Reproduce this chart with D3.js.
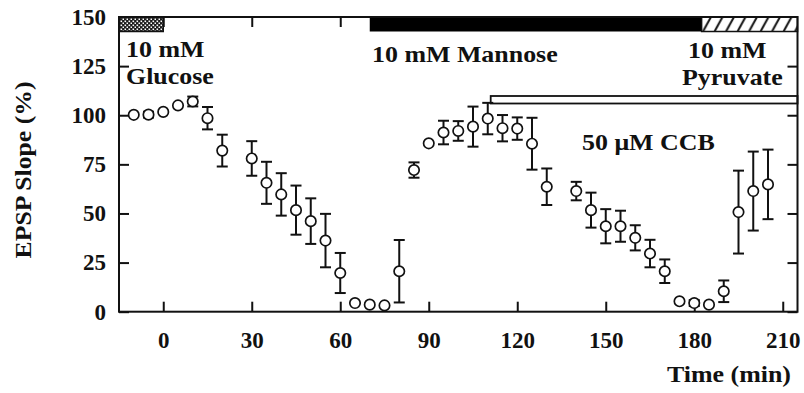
<!DOCTYPE html>
<html>
<head>
<meta charset="utf-8">
<script src="https://cdn.jsdelivr.net/npm/d3@7"></script>
<style>
  body { margin: 0; background: #fff; }
  svg text { font-family: "Liberation Serif", "Times New Roman", serif; font-weight: bold; fill: #111; }
</style>
</head>
<body>
<svg id="chart" width="804" height="393"></svg>
<script>
// Time points (min) and mean EPSP slope (% of baseline) with SEM
const times = [-10, -5, 0, 5, 10, 15, 20, 30, 35, 40, 45, 50, 55, 60, 65, 70, 75, 80, 85, 90,
  95, 100, 105, 110, 115, 120, 125, 130, 140, 145, 150, 155, 160, 165, 170, 175, 180, 185, 190, 195, 200, 205];
const slope = [100.2, 100.3, 101.7, 105, 107, 98.5, 82, 78, 65.6, 59.7, 51.7, 46.1, 36.2, 19.7, 4.4, 3.6, 3.2, 20.6, 72.1, 85.7,
  91.2, 92, 94.2, 98.3, 93.4, 93.2, 85.5, 63.6, 61.4, 51.7, 43.5, 43.5, 37.6, 29.6, 20.6, 5.3, 4.4, 3.6, 10.4, 50.7, 61.4, 64.8];
const sem = [0, 1.5, 0, 0, 2.5, 5.7, 8.1, 8.8, 10.7, 10.8, 12.5, 11.6, 13.6, 10.2, 0, 0, 0, 15.9, 3.9, 0,
  6, 5, 10.2, 8, 6.7, 5.7, 13.2, 9.3, 4.7, 8.9, 8.7, 7.9, 6.4, 7, 6, 0, 1.5, 0, 5.5, 21.1, 20.1, 17.7];

// Perfusion periods (min)
const glucosePeriod = [-15, 0];
const mannosePeriod = [70, 182.5];
const pyruvatePeriod = [182.5, 215];
const ccbPeriod = [111, 215];

const xTicks = [0, 30, 60, 90, 120, 150, 180, 210];
const yTicks = [0, 25, 50, 75, 100, 125, 150];

const svg = d3.select("#chart");
const x = d3.scaleLinear().domain([-15, 215]).range([119, 797.5]);
const y = d3.scaleLinear().domain([0, 150]).range([311.7, 17]);

const defs = svg.append("defs");
// fine checker for the glucose bar
const chk = defs.append("pattern").attr("id", "checker").attr("patternUnits", "userSpaceOnUse")
  .attr("x", 0).attr("y", 0).attr("width", 4).attr("height", 4);
chk.append("rect").attr("width", 4).attr("height", 4).attr("fill", "#1a1a1a");
chk.append("rect").attr("x", 0.5).attr("y", 0.5).attr("width", 1.6).attr("height", 1.6).attr("fill", "#fff");
chk.append("rect").attr("x", 2.5).attr("y", 2.5).attr("width", 1.6).attr("height", 1.6).attr("fill", "#fff");
// diagonal hatch for the pyruvate bar
const hatch = defs.append("pattern").attr("id", "hatch").attr("patternUnits", "userSpaceOnUse")
  .attr("x", 0).attr("y", 17).attr("width", 11.5).attr("height", 14.5);
hatch.append("rect").attr("width", 11.5).attr("height", 14.5).attr("fill", "#fff");
hatch.append("line").attr("x1", 1.5).attr("y1", 14.5).attr("x2", 9.5).attr("y2", 0)
  .attr("stroke", "#111").attr("stroke-width", 2);

// axes with inward ticks on all four sides
const axisStyle = g => {
  g.select(".domain").remove();
  g.selectAll(".tick line").attr("stroke", "#111").attr("stroke-width", 2);
  g.selectAll("text").attr("font-size", 23).attr("fill", "#111")
    .attr("font-family", '"Liberation Serif", serif').attr("font-weight", "bold");
};
svg.append("g").attr("transform", `translate(0,${y(0)})`)
  .call(d3.axisBottom(x).tickValues(xTicks).tickSizeInner(-10).tickSizeOuter(0).tickPadding(20))
  .call(axisStyle);
svg.append("g").attr("transform", `translate(0,${y(150)})`)
  .call(d3.axisTop(x).tickValues(xTicks).tickSizeInner(-10).tickSizeOuter(0).tickFormat(""))
  .call(axisStyle);
svg.append("g").attr("transform", `translate(${x(-15)},0)`)
  .call(d3.axisLeft(y).tickValues(yTicks).tickSizeInner(-10).tickSizeOuter(0).tickPadding(13))
  .call(axisStyle);
svg.append("g").attr("transform", `translate(${x(215)},0)`)
  .call(d3.axisRight(y).tickValues(yTicks).tickSizeInner(-10).tickSizeOuter(0).tickFormat(""))
  .call(axisStyle);

// treatment bars along the top
const barTop = y(150), barH = 14.5;
svg.append("rect").attr("x", x(glucosePeriod[0])).attr("y", barTop)
  .attr("width", x(glucosePeriod[1]) - x(glucosePeriod[0])).attr("height", barH)
  .attr("fill", "url(#checker)").attr("stroke", "#111").attr("stroke-width", 1.5);
svg.append("rect").attr("x", x(mannosePeriod[0])).attr("y", barTop)
  .attr("width", x(mannosePeriod[1]) - x(mannosePeriod[0])).attr("height", barH)
  .attr("fill", "#000");
svg.append("rect").attr("x", x(pyruvatePeriod[0])).attr("y", barTop)
  .attr("width", x(pyruvatePeriod[1]) - x(pyruvatePeriod[0])).attr("height", barH)
  .attr("fill", "url(#hatch)").attr("stroke", "#111").attr("stroke-width", 1.5);

// CCB application bar
svg.append("rect").attr("x", x(ccbPeriod[0])).attr("y", 96)
  .attr("width", x(ccbPeriod[1]) - x(ccbPeriod[0])).attr("height", 7.5)
  .attr("fill", "#fff").attr("stroke", "#111").attr("stroke-width", 1.8);

// plot frame
svg.append("rect").attr("x", x(-15)).attr("y", y(150))
  .attr("width", x(215) - x(-15)).attr("height", y(0) - y(150))
  .attr("fill", "none").attr("stroke", "#111").attr("stroke-width", 2);

// data: error bars then open circles
const data = times.map((t, i) => ({ t, v: slope[i], e: sem[i] }));
const cap = 5.5;
const eb = svg.append("g").attr("stroke", "#111").attr("stroke-width", 2).attr("fill", "none");
data.filter(d => d.e > 0).forEach(d => {
  const cx = x(d.t), y1 = y(d.v + d.e), y2 = y(d.v - d.e);
  eb.append("line").attr("x1", cx).attr("x2", cx).attr("y1", y1).attr("y2", y2);
  eb.append("line").attr("x1", cx - cap).attr("x2", cx + cap).attr("y1", y1).attr("y2", y1);
  eb.append("line").attr("x1", cx - cap).attr("x2", cx + cap).attr("y1", y2).attr("y2", y2);
});
svg.append("g").selectAll("circle").data(data).join("circle")
  .attr("cx", d => x(d.t)).attr("cy", d => y(d.v)).attr("r", 5.2)
  .attr("fill", "#fff").attr("stroke", "#111").attr("stroke-width", 1.7);

// labels (the serif face is drawn slightly wide)
const label = (txt, px, py, anchor = "start") =>
  svg.append("text").attr("transform", `translate(${px},${py}) scale(1.08,1)`)
    .attr("font-size", 24).attr("text-anchor", anchor).text(txt);
label("10 mM", 126, 57);
label("Glucose", 126, 84);
label("10 mM Mannose", 372, 62);
label("10 mM", 688, 58);
label("Pyruvate", 682, 85);
label("50 \u03BCM CCB", 582, 150);
label("Time (min)", 791, 382, "end");
svg.append("text").attr("transform", "translate(31,170) rotate(-90) scale(1.07,1)")
  .attr("text-anchor", "middle").attr("font-size", 24).text("EPSP Slope (%)");
</script>
</body>
</html>
